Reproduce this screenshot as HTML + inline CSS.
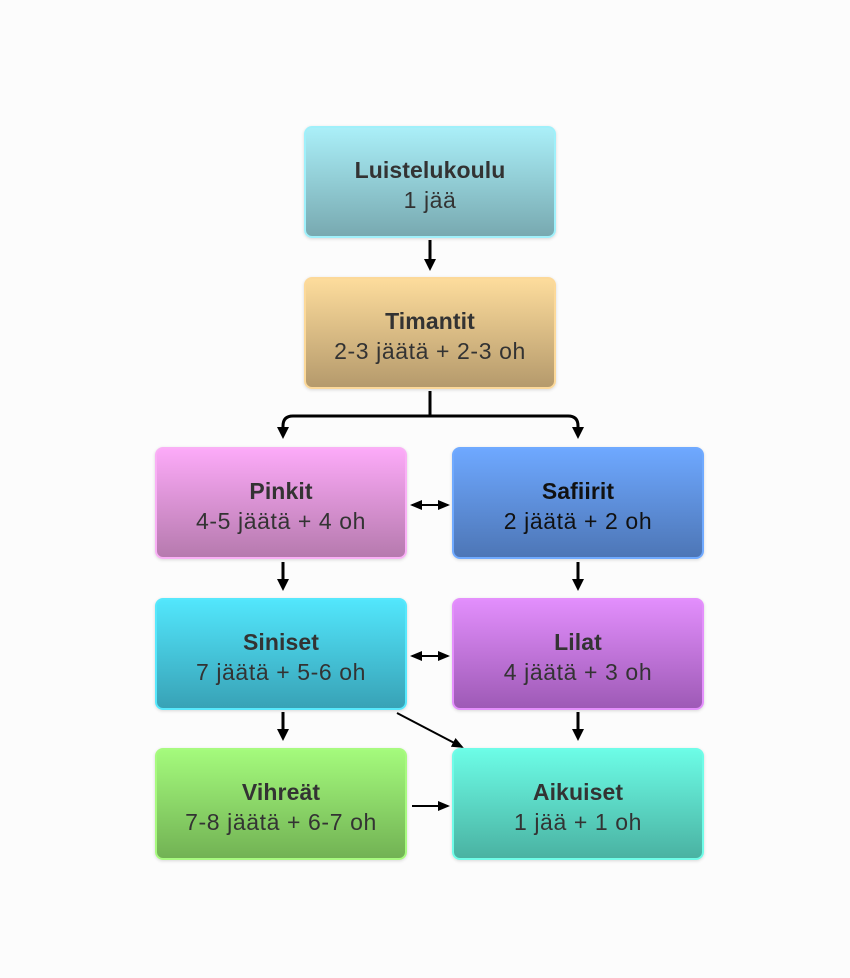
<!DOCTYPE html>
<html><head><meta charset="utf-8"><style>
body{margin:0;width:850px;height:978px;background:#fcfcfc;position:relative;font-family:"Liberation Sans",sans-serif;overflow:hidden}
.b{position:absolute;width:248px;height:102px;padding-top:6px;border:2px solid;border-radius:8px;box-sizing:content-box;display:flex;flex-direction:column;justify-content:center;align-items:center;color:#333;font-size:22px;line-height:30px;box-shadow:0 1px 3px rgba(0,0,0,.15)}
.b b{font-weight:bold;font-size:23px;letter-spacing:0.1px}
.b span{font-size:23px;letter-spacing:0.6px}
svg{position:absolute;left:0;top:0}
</style></head><body>
<div class="b" style="left:304px;top:126px;background:linear-gradient(#aaeff8,#78a9b0);border-color:#a0f0fa"><b>Luistelukoulu</b><span>1 jää</span></div>
<div class="b" style="left:304px;top:277px;background:linear-gradient(#fddc9c,#b59a6c);border-color:#fcd99a"><b>Timantit</b><span>2-3 jäätä + 2-3 oh</span></div>
<div class="b" style="left:155px;top:447px;background:linear-gradient(#fcaaf8,#b67aae);border-color:#f9b0f5"><b>Pinkit</b><span>4-5 jäätä + 4 oh</span></div>
<div class="b" style="left:452px;top:447px;background:linear-gradient(#6ea8ff,#4d76b6);border-color:#70aaff;color:#111"><b>Safiirit</b><span>2 jäätä + 2 oh</span></div>
<div class="b" style="left:155px;top:598px;background:linear-gradient(#52e6fc,#38a2b6);border-color:#58e8fc"><b>Siniset</b><span>7 jäätä + 5-6 oh</span></div>
<div class="b" style="left:452px;top:598px;background:linear-gradient(#e28efc,#9e5ab6);border-color:#e490fc"><b>Lilat</b><span>4 jäätä + 3 oh</span></div>
<div class="b" style="left:155px;top:748px;background:linear-gradient(#a4fa7c,#72b254);border-color:#a8fa80"><b>Vihreät</b><span>7-8 jäätä + 6-7 oh</span></div>
<div class="b" style="left:452px;top:748px;background:linear-gradient(#6cfce6,#4ab2a2);border-color:#70fce8"><b>Aikuiset</b><span>1 jää + 1 oh</span></div>
<svg width="850" height="978">
<defs><marker id="a" markerWidth="4" markerHeight="4" refX="3" refY="2" orient="auto" markerUnits="strokeWidth"><path d="M0,0L4,2L0,4z"/></marker>
<marker id="s" markerWidth="6" markerHeight="5" refX="5" refY="2.5" orient="auto-start-reverse" markerUnits="strokeWidth"><path d="M0,0L6,2.5L0,5z"/></marker></defs>
<g stroke="#000" fill="none" stroke-width="3">
<path d="M430,240V268" marker-end="url(#a)"/>
<path d="M430,391V416H293Q283,416 283,426V436" marker-end="url(#a)"/>
<path d="M430,416H568Q578,416 578,426V436" marker-end="url(#a)"/>
<path d="M283,562V588" marker-end="url(#a)"/>
<path d="M578,562V588" marker-end="url(#a)"/>
<path d="M283,712V738" marker-end="url(#a)"/>
<path d="M578,712V738" marker-end="url(#a)"/>
</g>
<g stroke="#000" fill="none" stroke-width="2">
<path d="M412,505H448" marker-start="url(#s)" marker-end="url(#s)"/>
<path d="M412,656H448" marker-start="url(#s)" marker-end="url(#s)"/>
<path d="M397,713L462,747" marker-end="url(#s)"/>
<path d="M412,806H448" marker-end="url(#s)"/>
</g>
</svg>
</body></html>
